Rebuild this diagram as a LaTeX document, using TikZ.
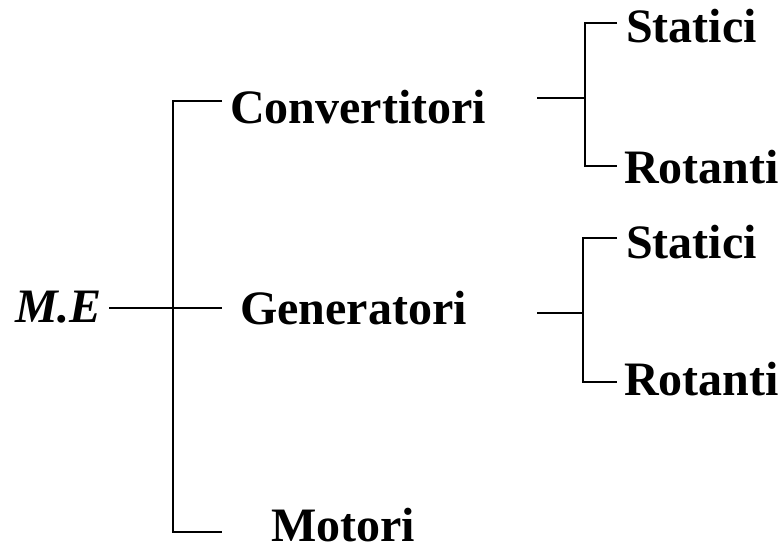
\documentclass[tikz,border=0pt]{standalone}
\usepackage{fontspec}
\setmainfont{Liberation Serif}
\begin{document}
\begin{tikzpicture}[x=1pt,y=-1pt,
  lbl/.style={font=\fontsize{48}{50}\selectfont\bfseries, inner sep=0pt, anchor=base west},
  conn/.style={line width=1.8pt}]
\useasboundingbox (0,0) rectangle (783,549);
% texts
\node[lbl, font=\fontsize{48}{50}\selectfont\bfseries\itshape] (me) at (15,322) {M.E};
\node[lbl] (conv) at (230,123) {Convertitori};
\node[lbl] (gen) at (240,324) {Generatori};
\node[lbl] (mot) at (271,541) {Motori};
\node[lbl] (st1) at (626,42) {Statici};
\node[lbl] (rot1) at (624,183) {Rotanti};
\node[lbl] (st2) at (626,258) {Statici};
\node[lbl] (rot2) at (624,395) {Rotanti};
% main bracket
\coordinate (meE) at (109,308);
\coordinate (bT) at (173,101);
\coordinate (bM) at (173,308);
\coordinate (bB) at (173,532);
\coordinate (cE) at (222,101);
\coordinate (gE) at (222,308);
\coordinate (mE) at (222,532);
\draw[conn] (cE) -- (bT) -- (bB) -- (mE);
\draw[conn] (meE) -- (gE);
% upper sub bracket
\coordinate (s1a) at (537,98);
\coordinate (s1b) at (585,98);
\coordinate (s1T) at (585,23);
\coordinate (s1B) at (585,166);
\coordinate (s1Te) at (617,23);
\coordinate (s1Be) at (617,166);
\draw[conn] (s1Te) -- (s1T) -- (s1B) -- (s1Be);
\draw[conn] (s1a) -- (s1b);
% lower sub bracket
\coordinate (s2a) at (537,313);
\coordinate (s2b) at (583,313);
\coordinate (s2T) at (583,238);
\coordinate (s2B) at (583,382);
\coordinate (s2Te) at (617,238);
\coordinate (s2Be) at (617,382);
\draw[conn] (s2Te) -- (s2T) -- (s2B) -- (s2Be);
\draw[conn] (s2a) -- (s2b);
\end{tikzpicture}
\end{document}
